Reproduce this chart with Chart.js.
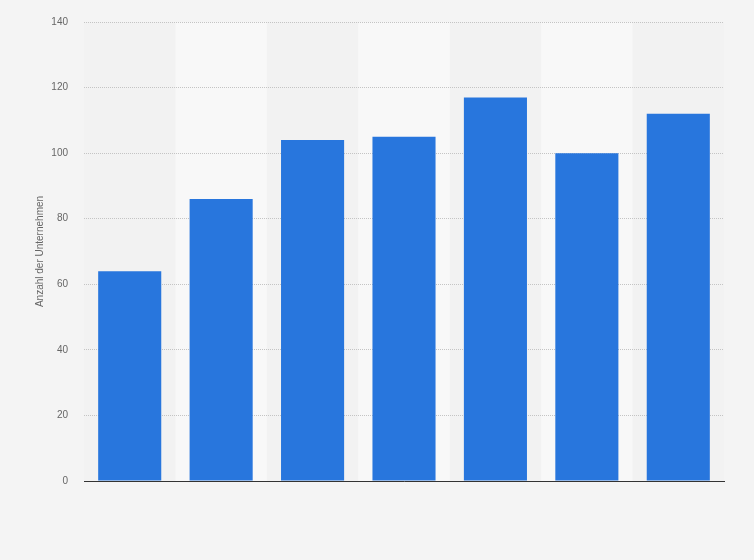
<!DOCTYPE html>
<html>
<head>
<meta charset="utf-8">
<style>
  html, body { margin: 0; padding: 0; background: #f4f4f4; }
  #wrap { width: 754px; height: 560px; position: relative; }
</style>
<script src="https://cdn.jsdelivr.net/npm/chart.js@4/dist/chart.umd.min.js"></script>
</head>
<body>
<div id="wrap"><canvas id="c" width="754" height="560"></canvas></div>
<script>
const categories = ["1", "2", "3", "4", "5", "6", "7"];
const values = [64, 86, 104, 105, 117, 100, 112];
const yTicks = [0, 20, 40, 60, 80, 100, 120, 140];
const yTitle = "Anzahl der Unternehmen";

const bandPlugin = {
  id: 'bands',
  beforeDraw(chart) {
    const { ctx, chartArea: a, scales: { x } } = chart;
    ctx.save();
    ctx.fillStyle = '#f2f2f2';
    ctx.fillRect(a.left, a.top, a.right - a.left, a.bottom - a.top);
    const w = (a.right - a.left) / categories.length;
    ctx.fillStyle = '#f8f8f8';
    categories.forEach((c, i) => {
      if (i % 2 === 1) {
        const cx = x.getPixelForValue(i);
        ctx.fillRect(cx - w / 2, a.top, w, a.bottom - a.top);
      }
    });
    ctx.restore();
  }
};

new Chart(document.getElementById('c'), {
  type: 'bar',
  data: {
    labels: categories,
    datasets: [{
      data: values,
      backgroundColor: '#2876dd',
      borderWidth: 0,
      barPercentage: 0.69,
      categoryPercentage: 1.0
    }]
  },
  options: {
    responsive: false,
    animation: false,
    devicePixelRatio: 1,
    layout: { padding: { left: 0, right: 30, top: 18, bottom: 79 } },
    plugins: { legend: { display: false }, tooltip: { enabled: false } },
    scales: {
      x: {
        ticks: { display: false },
        grid: { display: false, drawTicks: false },
        border: { display: true, color: '#333333', width: 1 },
        afterFit(s) { s.height = 0; }
      },
      y: {
        min: 0, max: 140,
        afterBuildTicks(s) { s.ticks = yTicks.map(v => ({ value: v })); },
        ticks: {
          color: '#666666',
          font: { family: 'Liberation Sans, Arial, sans-serif', size: 10 },
          padding: 16
        },
        grid: { color: '#c4c4c4', drawTicks: false, lineWidth: 1 },
        border: { display: false, dash: [1, 1] },
        title: {
          display: true,
          text: yTitle,
          color: '#666666',
          font: { family: 'Liberation Sans, Arial, sans-serif', size: 10 },
          padding: { top: 34, bottom: 0 }
        },
        afterFit(s) { s.width = 84; }
      }
    }
  },
  plugins: [bandPlugin]
});
</script>
</body>
</html>
